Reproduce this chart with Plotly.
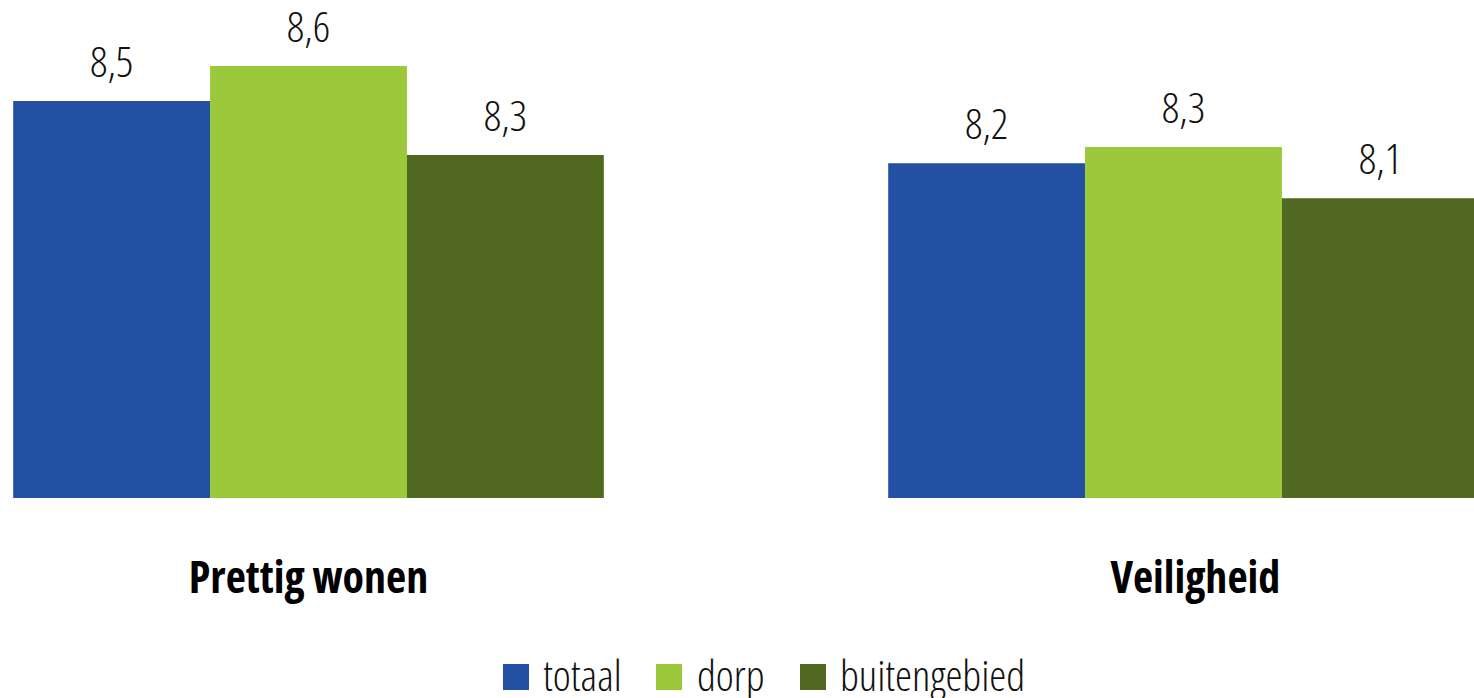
import plotly.graph_objects as go

# data (axis starts at 7)
categorieen = ["Prettig wonen", "Veiligheid"]
reeksen = ["totaal", "dorp", "buitengebied"]
totaal = [8.47, 8.24]
dorp = [8.60, 8.30]
buitengebied = [8.27, 8.11]

kleuren = ["#2450A4", "#9BC93B", "#50681F"]
waarden = [totaal, dorp, buitengebied]

W, H = 1474, 698
PLOT_BOTTOM = 498
FONT = "Open Sans"
SMAL = "<span style='font-stretch:75%'>{}</span>"

fig = go.Figure()

for naam, vals, kleur in zip(reeksen, waarden, kleuren):
    fig.add_trace(go.Bar(
        x=categorieen, y=vals, name=naam,
        marker=dict(color=kleur, line=dict(width=0)),
        offsetgroup=naam, showlegend=False,
    ))
    # value labels above the bars, transparent marker works as spacer
    fig.add_trace(go.Scatter(
        x=categorieen, y=vals, mode="markers+text",
        offsetgroup=naam,
        marker=dict(size=20, opacity=0),
        texttemplate=SMAL.format("%{y:.1f}"), textposition="top center",
        textfont=dict(family=FONT, size=43, color="#111111", weight=300),
        cliponaxis=False, showlegend=False, hoverinfo="skip",
    ))

# hand-made legend so the squares are as large as in the reference
legenda = [(503, 541), (656, 695), (800, 838)]
for (sx, tx), naam, kleur in zip(legenda, reeksen, kleuren):
    fig.add_shape(type="rect", xref="paper", yref="paper",
                  x0=sx / W, x1=(sx + 26) / W,
                  y0=(PLOT_BOTTOM - 690) / PLOT_BOTTOM,
                  y1=(PLOT_BOTTOM - 664) / PLOT_BOTTOM,
                  fillcolor=kleur, line=dict(width=0))
    fig.add_annotation(text=SMAL.format(naam), xref="paper", yref="paper",
                       x=tx / W, y=(PLOT_BOTTOM - 674) / PLOT_BOTTOM,
                       xanchor="left", yanchor="middle", showarrow=False,
                       font=dict(family=FONT, size=43, color="#111111", weight=300))

# second label sits a bit right of its group centre in the reference
ticktekst = [SMAL.format(categorieen[0]),
             SMAL.format("&nbsp;&nbsp;&nbsp;" + categorieen[1])]

fig.update_layout(
    width=W, height=H,
    margin=dict(l=0, r=0, t=0, b=H - PLOT_BOTTOM),
    barmode="group", bargap=0.325, bargroupgap=0,
    scattermode="group", scattergap=0.325,
    separators=",.",
    paper_bgcolor="white", plot_bgcolor="white",
    showlegend=False,
    xaxis=dict(range=[-308.5 / 875, -308.5 / 875 + W / 875], showgrid=False,
               zeroline=False, showline=False, ticks="", ticklabelstandoff=50,
               tickmode="array", tickvals=categorieen, ticktext=ticktekst,
               tickfont=dict(family=FONT, size=44, color="#000000", weight="bold")),
    yaxis=dict(range=[7, 7 + PLOT_BOTTOM / 270], visible=False),
)

# drop the default page margin so the figure fills the window exactly
fig.write_html("out.html", config={"displayModeBar": False},
               post_script="document.body.style.margin='0';")
